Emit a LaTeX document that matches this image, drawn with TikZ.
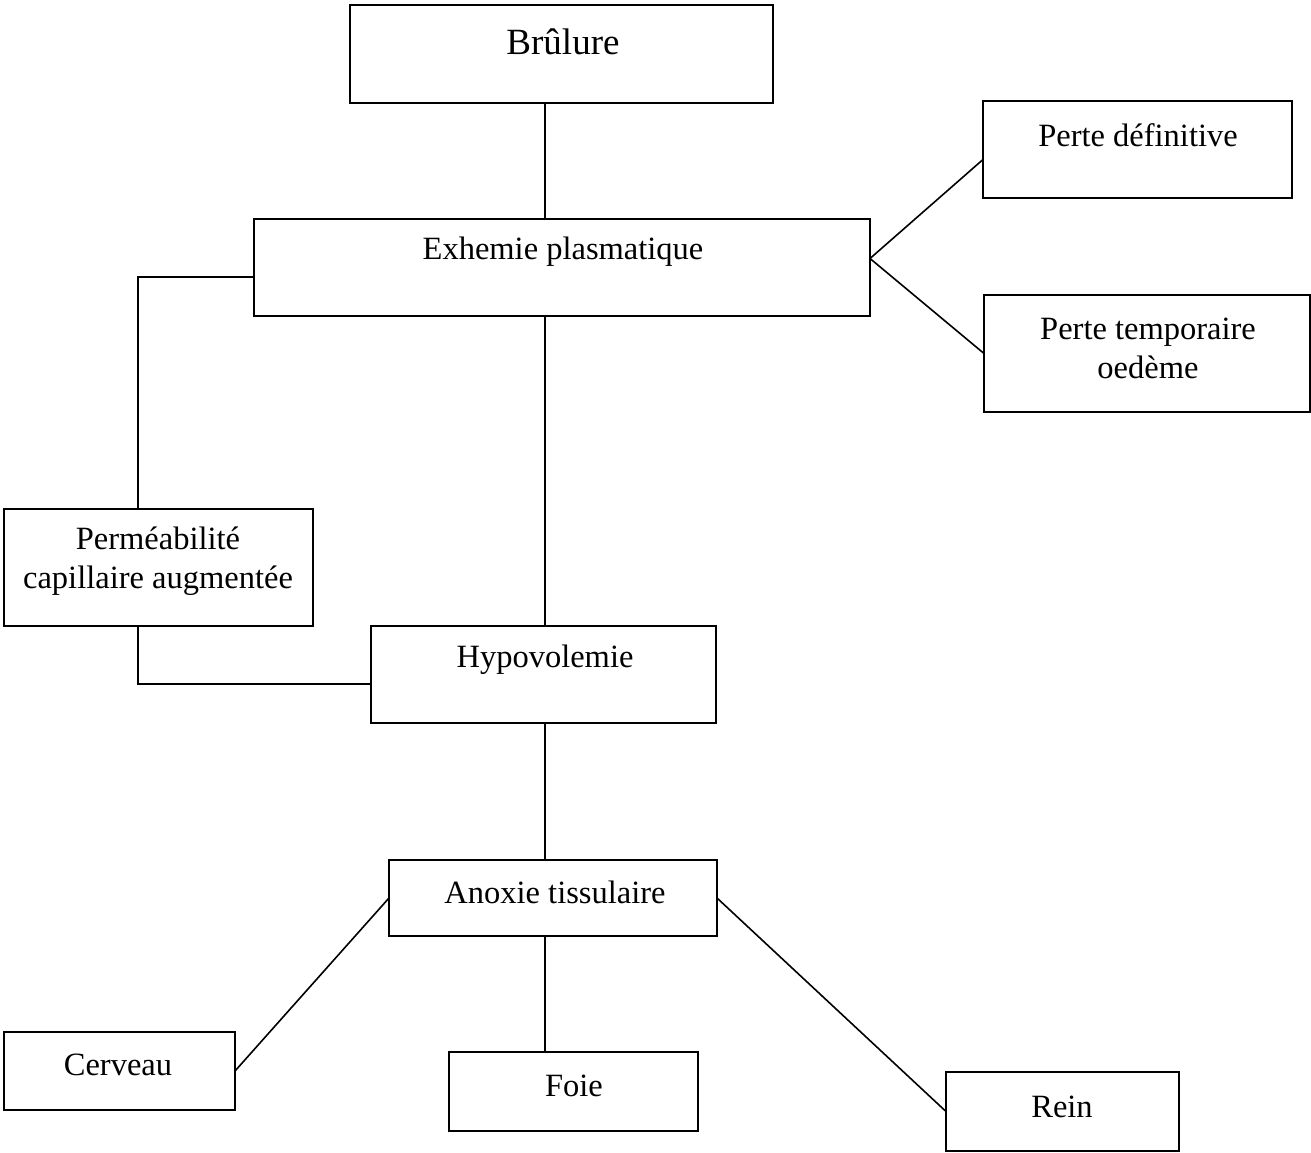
\documentclass[tikz,border=0pt]{standalone}
\usepackage{fontspec}
\setmainfont{Liberation Serif}
\usetikzlibrary{calc}
\begin{document}
\begin{tikzpicture}[x=1pt,y=-1pt,
  box/.style={draw=black,line width=1.8pt,inner sep=0pt,outer sep=0pt},
  txt/.style={font=\fontsize{32.5}{39}\selectfont,align=center,inner sep=0pt},
  conn/.style={draw=black,line width=1.6pt}]
\useasboundingbox[fill=white] (0,0) rectangle (1311,1153);
% boxes
\node[box,minimum width=423,minimum height=98] (brulure) at (561.5,54) {};
\node[box,minimum width=616,minimum height=97] (exhemie) at (562,267.5) {};
\node[box,minimum width=309,minimum height=97] (pdef) at (1137.5,149.5) {};
\node[box,minimum width=326,minimum height=117] (ptemp) at (1147,353.5) {};
\node[box,minimum width=309,minimum height=117] (perm) at (158.5,567.5) {};
\node[box,minimum width=345,minimum height=97] (hypo) at (543.5,674.5) {};
\node[box,minimum width=328,minimum height=76] (anoxie) at (553,898) {};
\node[box,minimum width=231,minimum height=78] (cerveau) at (119.5,1071) {};
\node[box,minimum width=249,minimum height=79] (foie) at (573.5,1091.5) {};
\node[box,minimum width=233,minimum height=79] (rein) at (1062.5,1111.5) {};
\coordinate (spine) at (545,0);
\coordinate (leftrail) at (138,0);
% texts
\node[txt,font=\fontsize{37}{44}\selectfont] (tbrulure) at (563,42) {Brûlure};
\node[txt] (texhemie) at (563,252) {Exhemie plasmatique};
\node[txt] (tpdef) at (1138,135) {Perte définitive};
\node[txt] (tptemp) at (1148,348) {Perte temporaire\\oedème};
\node[txt] (tperm) at (158,561) {Perméabilité\\capillaire augmentée};
\node[txt] (thypo) at (545,660) {Hypovolemie};
\node[txt] (tanoxie) at (555,892) {Anoxie tissulaire};
\node[txt] (tcerveau) at (118,1065) {Cerveau};
\node[txt] (tfoie) at (574,1086) {Foie};
\node[txt] (trein) at (1062,1107) {Rein};
% connectors
\draw[conn] (brulure.south -| spine) -- (exhemie.north -| spine);
\draw[conn] ($(exhemie.east)+(0,-9)$) -- ($(pdef.west)+(0,10)$);
\draw[conn] ($(exhemie.east)+(0,-9)$) -- (ptemp.west);
\draw[conn] ($(exhemie.west)+(0,9.5)$) -| (perm.north -| leftrail);
\draw[conn] (perm.south -| leftrail) |- ($(hypo.west)+(0,9.5)$);
\draw[conn] (exhemie.south -| spine) -- (hypo.north -| spine);
\draw[conn] (hypo.south -| spine) -- (anoxie.north -| spine);
\draw[conn] (anoxie.west) -- (cerveau.east);
\draw[conn] (anoxie.south -| spine) -- (foie.north -| spine);
\draw[conn] (anoxie.east) -- (rein.west);
\end{tikzpicture}
\end{document}
